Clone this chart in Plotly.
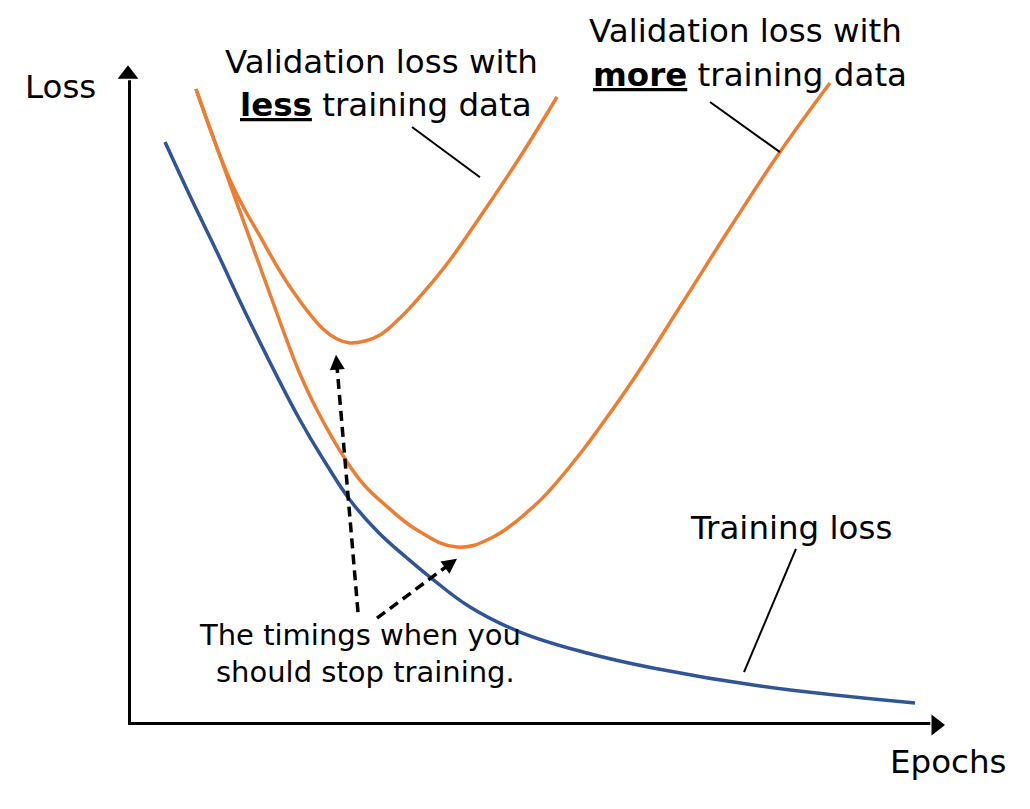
import plotly.graph_objects as go

# ---- data (epochs vs loss, arbitrary units) ----
train_x = [4.53, 7.59, 10.89, 14.93, 21.05, 24.11, 27.17, 30.60, 34.15, 36.96, 41.86, 47.98, 56.18, 64.26, 77.36, 96.33]
train_y = [88.33, 80.15, 71.67, 61.06, 46.21, 39.85, 34.09, 29.24, 25.30, 22.42, 17.88, 14.09, 10.91, 8.64, 5.91, 3.33]

more_x = [8.32, 12.48, 18.97, 21.05, 23.13, 26.81, 29.01, 31.21, 35.37, 40.27, 44.68, 49.57, 51.65, 55.69, 57.77, 61.81, 67.93, 73.68, 79.80, 85.92]
more_y = [96.36, 81.97, 59.85, 53.18, 47.73, 39.85, 36.21, 33.64, 29.55, 26.97, 28.48, 33.03, 35.61, 41.67, 45.15, 52.27, 64.09, 75.30, 86.82, 97.27]

less_x = [8.32, 10.40, 12.48, 14.32, 15.79, 19.83, 23.87, 25.58, 27.17, 29.01, 30.84, 33.29, 35.37, 36.96, 39.41, 43.08, 47.98, 52.51]
less_y = [96.36, 89.09, 82.58, 78.03, 74.85, 66.36, 60.00, 58.48, 57.88, 58.18, 59.09, 61.67, 64.39, 66.67, 70.45, 76.97, 86.06, 95.15]

# leader lines [x0, x1], [y0, y1]
lead_less_x, lead_less_y = [34.76, 43.08], [90.6, 83.0]
lead_more_x, lead_more_y = [71.24, 79.80], [94.4, 86.8]
lead_train_x, lead_train_y = [81.76, 75.40], [26.7, 8.0]

# dashed "stop training" arrows: [start, tip]
stop1_x, stop1_y = [28.15, 25.46], [17.1, 56.1]
stop2_x, stop2_y = [30.48, 40.27], [16.2, 25.2]

BLUE = "#2F5597"
ORANGE = "#ED7D31"
FONT = "DejaVu Sans"

fig = go.Figure()

# axes drawn as thick lines with arrowheads
fig.add_trace(go.Scatter(x=[-0.37, 98.2], y=[0, 0], mode="lines",
                         line=dict(color="black", width=6), cliponaxis=False, hoverinfo="skip"))
fig.add_trace(go.Scatter(x=[0, 0], y=[-0.45, 97.7], mode="lines",
                         line=dict(color="black", width=6), cliponaxis=False, hoverinfo="skip"))
fig.add_trace(go.Scatter(x=[98.9], y=[0], mode="markers",
                         marker=dict(symbol="triangle-right", size=18, color="black"),
                         cliponaxis=False, hoverinfo="skip"))
fig.add_trace(go.Scatter(x=[0], y=[98.6], mode="markers",
                         marker=dict(symbol="triangle-up", size=18, color="black"),
                         cliponaxis=False, hoverinfo="skip"))

# curves
for cx, cy, col, nm in [(train_x, train_y, BLUE, "Training loss"),
                        (more_x, more_y, ORANGE, "Validation loss (more data)"),
                        (less_x, less_y, ORANGE, "Validation loss (less data)")]:
    fig.add_trace(go.Scatter(x=cx, y=cy, mode="lines",
                             line=dict(color=col, width=3.5, shape="spline", smoothing=1.2),
                             cliponaxis=False, name=nm))

# leader lines
for lx, ly in [(lead_less_x, lead_less_y), (lead_more_x, lead_more_y), (lead_train_x, lead_train_y)]:
    fig.add_trace(go.Scatter(x=lx, y=ly, mode="lines", line=dict(color="black", width=2),
                             cliponaxis=False, hoverinfo="skip"))

# dashed arrows
for sx, sy, frac in [(stop1_x, stop1_y, 0.95), (stop2_x, stop2_y, 0.88)]:
    ex = sx[0] + (sx[1] - sx[0]) * frac
    ey = sy[0] + (sy[1] - sy[0]) * frac
    fig.add_trace(go.Scatter(x=[sx[0], ex], y=[sy[0], ey], mode="lines",
                             line=dict(color="black", width=3.5, dash="10px,6px"),
                             cliponaxis=False, hoverinfo="skip"))
    bx = sx[1] + (sx[0] - sx[1]) * 0.06
    by = sy[1] + (sy[0] - sy[1]) * 0.06
    fig.add_annotation(x=sx[1], y=sy[1], ax=bx, ay=by, axref="x", ayref="y",
                       xref="x", yref="y", text="", showarrow=True,
                       arrowhead=2, arrowsize=1.0, arrowwidth=3, arrowcolor="black", standoff=0)

# texts (paper coordinates)
def txt(x, y, s, size=32.5):
    fig.add_annotation(x=x, y=y, xref="paper", yref="paper", text=s, showarrow=False,
                       font=dict(family=FONT, size=size, color="black"),
                       xanchor="center", yanchor="middle")

txt(0.3097, 1.0038, "Validation loss with")
txt(0.3152, 0.9394, "<b><u>less</u></b> training data")
txt(0.7564, 1.0515, "Validation loss with")
txt(0.7619, 0.9856, "<b><u>more</u></b> training data")
txt(0.8121, 0.2992, "Training loss")
txt(0.2840, 0.1364, "The timings when you", size=29)
txt(0.2901, 0.0803, "should stop training.", size=29)
txt(-0.0826, 0.9667, "Loss")
txt(1.0031, -0.0568, "Epochs")

# page body adds an 8px offset; margins compensate so the plot sits where the reference does
fig.update_layout(
    width=1030, height=809,
    margin=dict(l=120, r=93, t=57, b=92),
    paper_bgcolor="white", plot_bgcolor="white",
    showlegend=False,
    xaxis=dict(range=[0, 100], visible=False, fixedrange=True),
    yaxis=dict(range=[0, 100], visible=False, fixedrange=True),
)

fig.write_html("out.html")
